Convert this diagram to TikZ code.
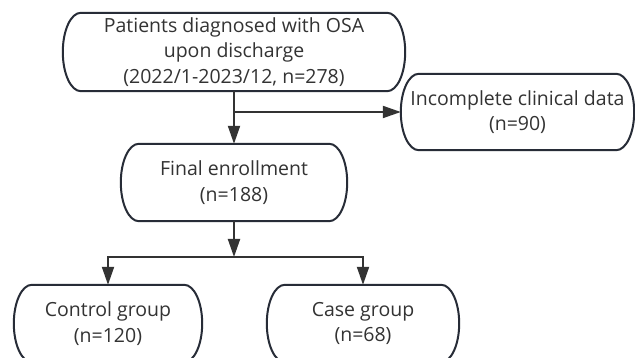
\documentclass[tikz,border=0pt]{standalone}
\usepackage{fontspec}
\setmainfont{Open Sans}
\usetikzlibrary{arrows.meta,calc}
\definecolor{ink}{HTML}{272C37}
\definecolor{txt}{HTML}{333333}
\tikzset{
  box/.style={draw=none, align=center, inner sep=0pt,
    font=\fontsize{19.5}{25.5}\selectfont, text=txt},
  outline/.style={draw=ink, line width=2pt},
  arr/.style={draw=txt, line width=2pt, -{Triangle[length=18pt,width=12pt]}},
  ln/.style={draw=txt, line width=2pt},
}
% draw a pill-shaped outline round node #2 with end radius #1
\newcommand\pillshape[2][18]{%
  \coordinate (p-a) at ($(#2.north east)+(-#1,0)$);
  \coordinate (p-b) at ($(#2.south east)+(-#1,0)$);
  \coordinate (p-c) at ($(#2.south west)+(#1,0)$);
  \coordinate (p-d) at ($(#2.north west)+(#1,0)$);
  \draw[outline] (p-d) -- (p-a)
    .. controls ($(p-a)!0.552!(#2.north east)$) and ($(#2.east)!0.552!(#2.north east)$) .. (#2.east)
    .. controls ($(#2.east)!0.552!(#2.south east)$) and ($(p-b)!0.552!(#2.south east)$) .. (p-b)
    -- (p-c)
    .. controls ($(p-c)!0.552!(#2.south west)$) and ($(#2.west)!0.552!(#2.south west)$) .. (#2.west)
    .. controls ($(#2.west)!0.552!(#2.north west)$) and ($(p-d)!0.552!(#2.north west)$) .. (p-d) -- cycle;
}
\begin{document}
\begin{tikzpicture}[x=1pt,y=-1pt]
\useasboundingbox (0,0) rectangle (635,358);
\clip (0,0) rectangle (635,358);
\fill[white] (0,0) rectangle (635,358);
\node[box, minimum width=342pt, minimum height=78pt] (top) at (234,52)
  {Patients diagnosed with OSA\\upon discharge\\(2022/1-2023/12, n=278)};
\node[box, minimum width=233pt, minimum height=76pt] (inc) at (517.5,112)
  {Incomplete clinical data\\(n=90)};
\node[box, minimum width=226pt, minimum height=77pt] (fin) at (234,182.5)
  {Final enrollment\\(n=188)};
\node[box, minimum width=188pt, minimum height=77pt] (ctrl) at (108,323.5)
  {Control group\\(n=120)};
\node[box, minimum width=192pt, minimum height=77pt] (case) at (363,323.5)
  {Case group\\(n=68)};
\pillshape{top}
\pillshape{inc}
\pillshape{fin}
\pillshape{ctrl}
\pillshape{case}
\coordinate (split) at (234,257);
\draw[arr] (top.south) -- (fin.north);
\draw[arr] (top.south |- inc.west) -- (inc.west);
\draw[arr] (fin.south) -- (split);
\draw[ln] ([xshift=-1pt]ctrl.north |- split) -- ([xshift=1pt]case.north |- split);
\draw[arr] (ctrl.north |- split) -- (ctrl.north);
\draw[arr] (case.north |- split) -- (case.north);
\end{tikzpicture}
\end{document}
